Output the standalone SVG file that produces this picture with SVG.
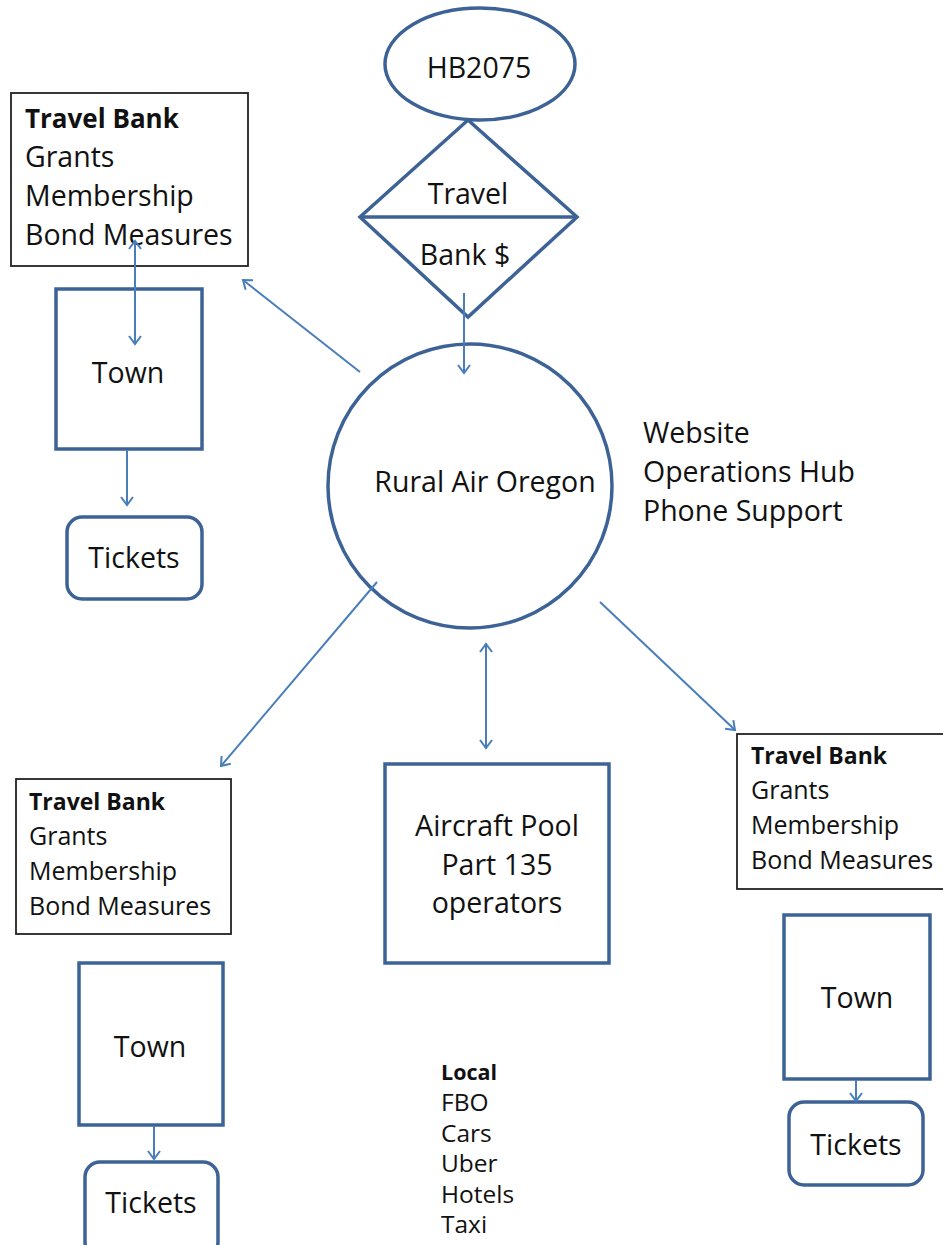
<svg xmlns="http://www.w3.org/2000/svg" width="943" height="1245" viewBox="0 0 943 1245">
<style>
.n{fill:#fff;stroke:#3D6396;stroke-width:3.5}
.b{fill:#fff;stroke:#222;stroke-width:1.8}
.t{font-family:"Open Sans",Lato,sans-serif;font-size:28.5px;fill:#111}
.s{font-family:"Open Sans",Lato,sans-serif;font-size:25px;fill:#111}
.l{font-family:"Open Sans",Lato,sans-serif;font-size:24.5px;fill:#111}
.h1{font-family:"Open Sans",Lato,sans-serif;font-weight:bold;font-size:26px;fill:#111}
.h2{font-family:"Open Sans",Lato,sans-serif;font-weight:bold;font-size:23px;fill:#111}
.h3{font-family:"Open Sans",Lato,sans-serif;font-weight:bold;font-size:21.5px;fill:#111}
.c{fill:none;stroke:#4A7EBB;stroke-width:2}
</style>
<defs>
<marker id="ah" markerUnits="userSpaceOnUse" markerWidth="16" markerHeight="16" viewBox="-10 -8 12 16" refX="0" refY="0" orient="auto-start-reverse">
<path d="M-8,-6 L0,0 L-8,6" fill="none" stroke="#4A7EBB" stroke-width="2"/>
</marker>
</defs>
<g id="hb2075">
<ellipse class="n" cx="480" cy="64" rx="95" ry="56"/>
<text class="t" x="479" y="78" text-anchor="middle">HB2075</text>
</g>
<g id="travel-bank-decision">
<polygon class="n" points="468,120 577,217 468,317 360,217"/>
<line x1="360" y1="217" x2="577" y2="217" stroke="#3D6396" stroke-width="3.5"/>
<text class="t" x="468" y="204" text-anchor="middle">Travel</text>
<text class="t" x="465" y="265" text-anchor="middle">Bank $</text>
</g>
<g id="rural-air-oregon">
<circle class="n" cx="470" cy="486" r="142"/>
<text class="t" x="485" y="492" text-anchor="middle">Rural Air Oregon</text>
</g>
<g id="services">
<text class="t" x="643" y="443">Website</text>
<text class="t" x="643" y="482">Operations Hub</text>
<text class="t" x="643" y="521">Phone Support</text>
</g>
<g id="funding-nw">
<rect class="b" x="11" y="93" width="237" height="173"/>
<text class="h1" x="25" y="128">Travel Bank</text>
<text class="t" x="25" y="167">Grants</text>
<text class="t" x="25" y="206">Membership</text>
<text class="t" x="25" y="245">Bond Measures</text>
</g>
<g id="town-nw">
<rect class="n" x="56" y="289" width="146" height="160"/>
<text class="t" x="128" y="383" text-anchor="middle">Town</text>
</g>
<g id="tickets-nw">
<rect class="n" x="67" y="517" width="135" height="82" rx="15"/>
<text class="t" x="134" y="568" text-anchor="middle">Tickets</text>
</g>
<g id="funding-sw">
<rect class="b" x="16" y="779" width="215" height="155"/>
<text class="h2" x="29" y="810">Travel Bank</text>
<text class="s" x="29" y="845">Grants</text>
<text class="s" x="29" y="880">Membership</text>
<text class="s" x="29" y="915">Bond Measures</text>
</g>
<g id="town-sw">
<rect class="n" x="79" y="963" width="144" height="162"/>
<text class="t" x="150" y="1057" text-anchor="middle">Town</text>
</g>
<g id="tickets-sw">
<rect class="n" x="85" y="1162" width="133" height="95" rx="15"/>
<text class="t" x="151" y="1213" text-anchor="middle">Tickets</text>
</g>
<g id="aircraft-pool">
<rect class="n" x="385" y="764" width="224" height="199"/>
<text class="t" x="497" y="836" text-anchor="middle">Aircraft Pool</text>
<text class="t" x="497" y="875" text-anchor="middle">Part 135</text>
<text class="t" x="497" y="913" text-anchor="middle">operators</text>
</g>
<g id="local">
<text class="h3" x="441" y="1080">Local</text>
<text class="l" x="441" y="1111">FBO</text>
<text class="l" x="441" y="1142">Cars</text>
<text class="l" x="441" y="1172">Uber</text>
<text class="l" x="441" y="1203">Hotels</text>
<text class="l" x="441" y="1233">Taxi</text>
</g>
<g id="funding-se">
<rect class="b" x="737" y="734" width="215" height="155"/>
<text class="h2" x="751" y="764">Travel Bank</text>
<text class="s" x="751" y="799">Grants</text>
<text class="s" x="751" y="834">Membership</text>
<text class="s" x="751" y="869">Bond Measures</text>
</g>
<g id="town-se">
<rect class="n" x="784" y="915" width="146" height="164"/>
<text class="t" x="857" y="1008" text-anchor="middle">Town</text>
</g>
<g id="tickets-se">
<rect class="n" x="789" y="1102" width="134" height="83" rx="15"/>
<text class="t" x="856" y="1155" text-anchor="middle">Tickets</text>
</g>
<g id="connectors">
<line class="c" x1="464" y1="293" x2="464" y2="373" marker-end="url(#ah)"/>
<line class="c" x1="360" y1="372" x2="243" y2="280" marker-end="url(#ah)"/>
<line class="c" x1="135" y1="241" x2="135" y2="344" marker-start="url(#ah)" marker-end="url(#ah)"/>
<line class="c" x1="127" y1="450" x2="127" y2="505" marker-end="url(#ah)"/>
<line class="c" x1="377" y1="582" x2="221" y2="766" marker-end="url(#ah)"/>
<line class="c" x1="486" y1="644" x2="486" y2="748" marker-start="url(#ah)" marker-end="url(#ah)"/>
<line class="c" x1="600" y1="602" x2="735" y2="730" marker-end="url(#ah)"/>
<line class="c" x1="154" y1="1126" x2="154" y2="1159" marker-end="url(#ah)"/>
<line class="c" x1="856" y1="1080" x2="856" y2="1101" marker-end="url(#ah)"/>
</g>
</svg>
